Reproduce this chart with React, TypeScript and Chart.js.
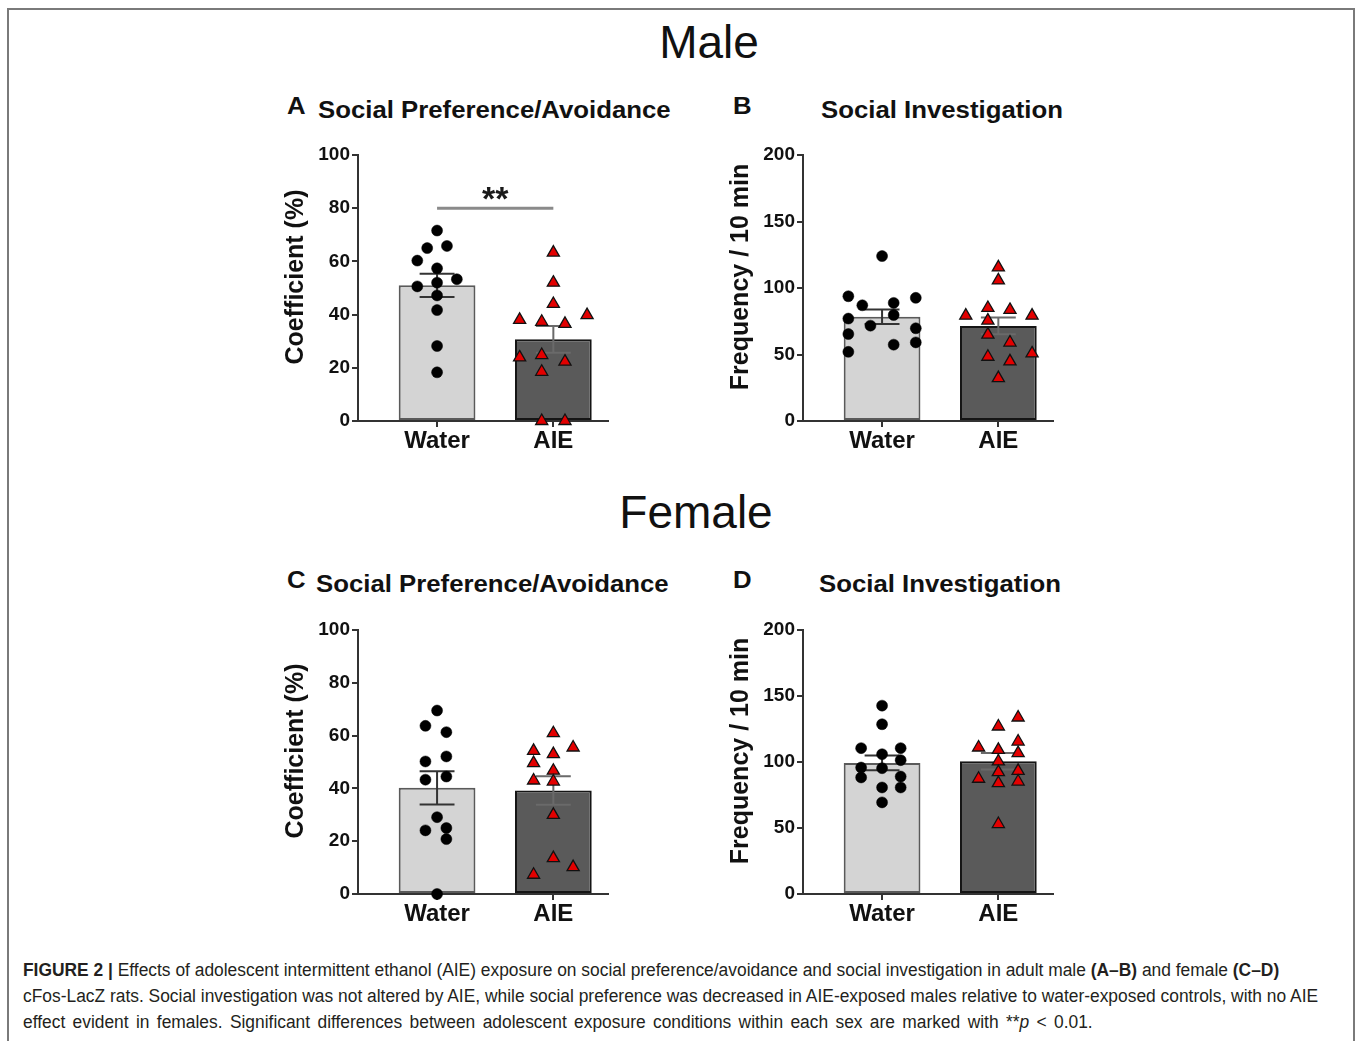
import React, { useEffect, useRef } from "react";
import { Chart, registerables } from "chart.js";
Chart.register(...registerables);

const FONT = '"Liberation Sans", Arial, Helvetica, sans-serif';

// ---------- data ----------
const groups = ["Water", "AIE"];
const coefTicks = [0, 20, 40, 60, 80, 100];
const freqTicks = [0, 50, 100, 150, 200];

// A: Male, social preference coefficient (%)
const maleCoefWater = [71.6, 65, 65.8, 60.3, 57.4, 53.3, 50.6, 52, 47.2, 41.7, 28.2, 18.3];
const maleCoefWaterJit = [0, -0.085, 0.085, -0.17, 0, 0.17, -0.17, 0, 0, 0, 0, 0];
const maleCoefAIE = [63.3, 52, 44, 38, 37.3, 36.5, 39.8, 23.9, 24.8, 22.3, 18.5, 0, 0];
const maleCoefAIEJit = [0, 0, 0, -0.29, -0.1, 0.1, 0.29, -0.29, -0.1, 0.1, -0.1, -0.1, 0.1];
const maleCoefMean = [51, 30.7];
const maleCoefSem = [4.4, 5];
const maleCoefSig = { from: 0, to: 1, y: 80, label: "**" };

// B: Male, social investigation frequency / 10 min
const maleFreqWater = [124, 93.8, 87, 88.8, 92.6, 77, 71.7, 79.7, 65.4, 69.7, 52, 57.4, 59.1];
const maleFreqWaterJit = [0, -0.29, -0.17, 0.1, 0.29, -0.29, -0.1, 0.1, -0.29, 0.29, -0.29, 0.1, 0.29];
const maleFreqAIE = [115.5, 105.7, 79.2, 85, 83.5, 79.2, 75.5, 65, 59, 50.8, 48.3, 44.8, 32.2];
const maleFreqAIEJit = [0, 0, -0.28, -0.09, 0.1, 0.29, -0.09, -0.09, 0.1, 0.29, -0.09, 0.1, 0];
const maleFreqMean = [78.4, 71.5];
const maleFreqSem = [5.4, 6.3];

// C: Female, social preference coefficient (%)
const femaleCoefWater = [69.5, 63.7, 61.3, 50.2, 52.1, 43.3, 44.5, 29.1, 24.1, 25, 20.8, 0];
const femaleCoefWaterJit = [0, -0.1, 0.08, -0.1, 0.08, -0.1, 0.08, 0, -0.1, 0.08, 0.08, 0];
const femaleCoefAIE = [60.9, 54.2, 53, 55.5, 49.6, 46.7, 43, 42.6, 30, 13.6, 10.2, 7.3];
const femaleCoefAIEJit = [0, -0.17, 0, 0.17, -0.17, 0, -0.17, 0, 0, 0, 0.17, -0.17];
const femaleCoefMean = [40.2, 39.2];
const femaleCoefSem = [6.3, 5.4];

// D: Female, social investigation frequency / 10 min
const femaleFreqWater = [142.7, 128.6, 110.5, 110.5, 105.9, 95.8, 101.4, 95.3, 88.3, 89, 80.7, 80.7, 69.4];
const femaleFreqWaterJit = [0, 0, -0.18, 0.16, 0, -0.18, 0.16, 0, -0.18, 0.16, 0, 0.16, 0];
const femaleFreqAIE = [133.7, 126.9, 111, 115.5, 109.2, 106.7, 100.4, 93.3, 92.3, 87.3, 84, 85.2, 53];
const femaleFreqAIEJit = [0.17, 0, -0.17, 0.17, 0, 0.17, 0, 0.17, 0, -0.17, 0, 0.17, 0];
const femaleFreqMean = [99.3, 100.6];
const femaleFreqSem = [5.6, 6.3];

// ---------- styling ----------
const CW = 340;
const CH = 320;
const BAR_FILL = ["#d4d4d4", "#5a5a5a"];
const BAR_EDGE = ["#5a5a5a", "#151515"];
const ERR_COLOR = ["#333333", "#6a6a6a"];
const CAP = 0.15;
const TITLE_X = 16;
const TITLE_SHIFT = -11;

type Sig = { from: number; to: number; y: number; label: string };
type PanelDef = {
  left: number;
  top: number;
  padTop: number;
  xAxisH: number;
  yTicks: number[];
  yTitle: string;
  water: number[];
  waterJit: number[];
  aie: number[];
  aieJit: number[];
  means: number[];
  sems: number[];
  sig?: Sig;
};

function Panel({ def }: { def: PanelDef }) {
  const ref = useRef<HTMLCanvasElement>(null);
  useEffect(() => {
    const canvas = ref.current;
    if (!canvas) return;
    const plugin = {
      id: "errbars",
      afterDatasetDraw(chart: any, args: any) {
        if (args.index !== 0) return;
        const xs = chart.scales.x;
        const ys = chart.scales.y;
        const ctx = chart.ctx;
        ctx.save();
        ctx.lineWidth = 2;
        def.means.forEach((m, i) => {
          ctx.strokeStyle = ERR_COLOR[i];
          const cx = xs.getPixelForValue(i);
          const x0 = xs.getPixelForValue(i - CAP);
          const x1 = xs.getPixelForValue(i + CAP);
          const yt = ys.getPixelForValue(m + def.sems[i]);
          const yb = ys.getPixelForValue(m - def.sems[i]);
          ctx.beginPath();
          ctx.moveTo(cx, yt);
          ctx.lineTo(cx, yb);
          ctx.moveTo(x0, yt);
          ctx.lineTo(x1, yt);
          ctx.moveTo(x0, yb);
          ctx.lineTo(x1, yb);
          ctx.stroke();
        });
        ctx.restore();
      },
      afterDraw(chart: any) {
        const ctx = chart.ctx;
        const area = chart.chartArea;
        // y-axis title
        ctx.save();
        ctx.translate(TITLE_X, (area.top + area.bottom) / 2 + TITLE_SHIFT);
        ctx.rotate(-Math.PI / 2);
        ctx.fillStyle = "#111";
        ctx.font = `bold 25px ${FONT}`;
        ctx.textAlign = "center";
        ctx.textBaseline = "middle";
        ctx.fillText(def.yTitle, 0, 0);
        ctx.restore();

        const s = def.sig;
        if (!s) return;
        const xs = chart.scales.x;
        const ys = chart.scales.y;
        const x0 = xs.getPixelForValue(s.from);
        const x1 = xs.getPixelForValue(s.to);
        const y = ys.getPixelForValue(s.y);
        ctx.save();
        ctx.strokeStyle = "#8a8a8a";
        ctx.lineWidth = 3;
        ctx.beginPath();
        ctx.moveTo(x0, y);
        ctx.lineTo(x1, y);
        ctx.stroke();
        ctx.fillStyle = "#1a1a1a";
        ctx.font = `bold 34px ${FONT}`;
        ctx.textAlign = "center";
        ctx.textBaseline = "alphabetic";
        ctx.fillText(s.label, (x0 + x1) / 2, y + 2);
        ctx.restore();
      },
    };

    const yMax = def.yTicks[def.yTicks.length - 1];
    const chart = new Chart(canvas, {
      type: "bar",
      data: {
        datasets: [
          {
            type: "bar",
            data: def.means.map((m, i) => ({ x: i, y: m })),
            backgroundColor: BAR_FILL,
            borderColor: BAR_EDGE,
            borderWidth: 2,
            borderSkipped: false,
            categoryPercentage: 1,
            barPercentage: 0.66,
            order: 5,
          } as any,
          {
            type: "scatter",
            data: def.water.map((v, i) => ({ x: 0 + def.waterJit[i], y: v })),
            pointStyle: "circle",
            pointRadius: 5.5,
            backgroundColor: "#000",
            borderColor: "#000",
            borderWidth: 0.5,
            clip: false,
            order: 1,
          } as any,
          {
            type: "scatter",
            data: def.aie.map((v, i) => ({ x: 1 + def.aieJit[i], y: v })),
            pointStyle: "triangle",
            pointRadius: 7,
            backgroundColor: "#e30000",
            borderColor: "#111",
            borderWidth: 1.3,
            clip: false,
            order: 1,
          } as any,
        ],
      },
      options: {
        animation: false,
        responsive: false,
        maintainAspectRatio: false,
        events: [],
        layout: { padding: { top: def.padTop, right: 12, left: 0, bottom: 0 } },
        plugins: { legend: { display: false }, tooltip: { enabled: false } },
        scales: {
          x: {
            type: "linear",
            min: -0.68,
            max: 1.47,
            offset: false,
            afterBuildTicks: (s: any) => {
              s.ticks = groups.map((_, i) => ({ value: i }));
            },
            afterFit: (s: any) => {
              s.height = def.xAxisH;
            },
            ticks: {
              callback: (v: any) => groups[v as number],
              autoSkip: false,
              maxRotation: 0,
              padding: 0,
              color: "#111",
              font: { family: FONT, size: 24, weight: "bold" },
            },
            grid: { display: true, offset: false, drawOnChartArea: false, drawTicks: true, tickLength: 6, color: "#333", lineWidth: 2 },
            border: { display: true, color: "#333", width: 2 },
          },
          y: {
            type: "linear",
            min: 0,
            max: yMax,
            afterBuildTicks: (s: any) => {
              s.ticks = def.yTicks.map((v) => ({ value: v }));
            },
            afterFit: (s: any) => {
              s.width = 78;
            },
            ticks: {
              padding: 2,
              color: "#111",
              font: { family: FONT, size: 19, weight: "bold" },
            },
            grid: { display: true, drawOnChartArea: false, drawTicks: true, tickLength: 6, color: "#333", lineWidth: 2 },
            border: { display: true, color: "#333", width: 2 },
            title: { display: false },
          },
        },
      } as any,
      plugins: [plugin],
    });
    return () => chart.destroy();
  }, []);
  return (
    <canvas
      ref={ref}
      width={CW}
      height={CH}
      style={{ position: "absolute", left: def.left, top: def.top, width: CW, height: CH }}
    />
  );
}

const panels: PanelDef[] = [
  {
    left: 280, top: 140, padTop: 15, xAxisH: 39, yTicks: coefTicks, yTitle: "Coefficient (%)",
    water: maleCoefWater, waterJit: maleCoefWaterJit, aie: maleCoefAIE, aieJit: maleCoefAIEJit,
    means: maleCoefMean, sems: maleCoefSem, sig: maleCoefSig,
  },
  {
    left: 725, top: 140, padTop: 15, xAxisH: 39, yTicks: freqTicks, yTitle: "Frequency / 10 min",
    water: maleFreqWater, waterJit: maleFreqWaterJit, aie: maleFreqAIE, aieJit: maleFreqAIEJit,
    means: maleFreqMean, sems: maleFreqSem,
  },
  {
    left: 280, top: 615, padTop: 15, xAxisH: 41, yTicks: coefTicks, yTitle: "Coefficient (%)",
    water: femaleCoefWater, waterJit: femaleCoefWaterJit, aie: femaleCoefAIE, aieJit: femaleCoefAIEJit,
    means: femaleCoefMean, sems: femaleCoefSem,
  },
  {
    left: 725, top: 615, padTop: 15, xAxisH: 41, yTicks: freqTicks, yTitle: "Frequency / 10 min",
    water: femaleFreqWater, waterJit: femaleFreqWaterJit, aie: femaleFreqAIE, aieJit: femaleFreqAIEJit,
    means: femaleFreqMean, sems: femaleFreqSem,
  },
];

const headTexts = [
  { text: "A", left: 287, cy: 106 },
  { text: "Social Preference/Avoidance", left: 318, cy: 110 },
  { text: "B", left: 733, cy: 106 },
  { text: "Social Investigation", left: 821, cy: 110 },
  { text: "C", left: 287, cy: 580 },
  { text: "Social Preference/Avoidance", left: 316, cy: 584 },
  { text: "D", left: 733, cy: 580 },
  { text: "Social Investigation", left: 819, cy: 584 },
];

const sexTitles = [
  { text: "Male", cx: 709, cy: 42 },
  { text: "Female", cx: 696, cy: 512 },
];

export default function App() {
  const lineStyle: React.CSSProperties = { transform: "scaleX(0.966)", transformOrigin: "left center", whiteSpace: "nowrap" };
  return (
    <div style={{ position: "fixed", inset: 0, overflow: "hidden", background: "#fff", fontFamily: FONT }}>
      <div
        style={{
          position: "absolute", left: 7, top: 8, width: 1348, height: 1040,
          boxSizing: "border-box", borderTop: "2px solid #7a7a7a", borderLeft: "2px solid #7a7a7a", borderRight: "2px solid #7a7a7a",
        }}
      />
      {sexTitles.map((t) => (
        <div key={t.text} style={{ position: "absolute", left: t.cx - 150, width: 300, top: t.cy - 24, lineHeight: "48px", fontSize: 46, textAlign: "center", color: "#111" }}>
          {t.text}
        </div>
      ))}
      {headTexts.map((t, i) => (
        <div
          key={i}
          style={{
            position: "absolute", left: t.left, top: t.cy - 12, lineHeight: "24px", fontSize: 23, fontWeight: "bold",
            color: "#111", whiteSpace: "nowrap", transform: "scaleX(1.12)", transformOrigin: "left center",
          }}
        >
          {t.text}
        </div>
      ))}
      {panels.map((p, i) => (
        <Panel key={i} def={p} />
      ))}
      <div style={{ position: "absolute", left: 23, top: 957, fontFamily: FONT, fontSize: 18, lineHeight: "26px", color: "#231f20" }}>
        <div style={lineStyle}>
          <b>FIGURE 2 |</b> Effects of adolescent intermittent ethanol (AIE) exposure on social preference/avoidance and social investigation in adult male <b>(A–B)</b> and female <b>(C–D)</b>
        </div>
        <div style={lineStyle}>
          cFos-LacZ rats. Social investigation was not altered by AIE, while social preference was decreased in AIE-exposed males relative to water-exposed controls, with no AIE
        </div>
        <div style={{ ...lineStyle, wordSpacing: "2.6px" }}>
          effect evident in females. Significant differences between adolescent exposure conditions within each sex are marked with **<i>p</i> &lt; 0.01.
        </div>
      </div>
    </div>
  );
}
